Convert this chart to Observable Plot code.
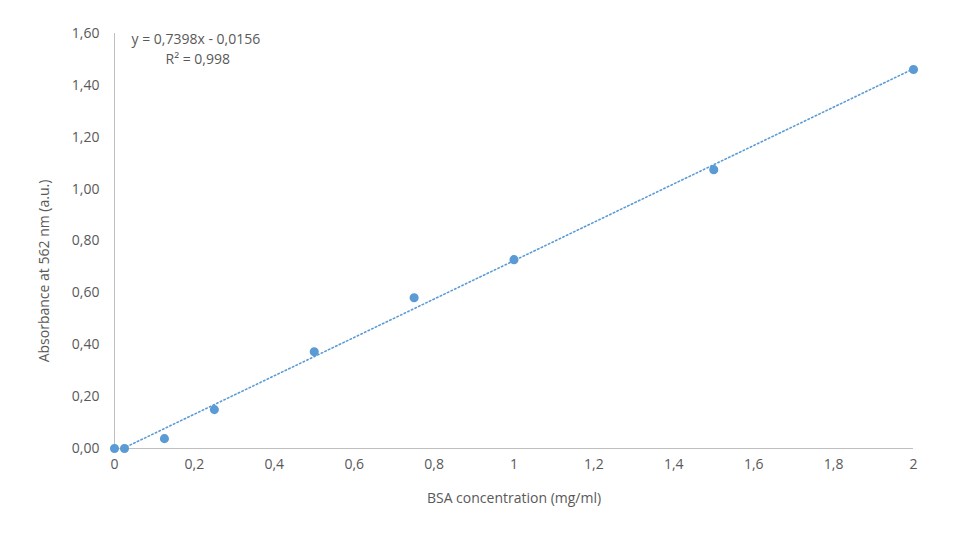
<!DOCTYPE html>
<html>
<head>
<meta charset="utf-8">
<script src="https://cdn.jsdelivr.net/npm/d3@7"></script>
<script src="https://cdn.jsdelivr.net/npm/@observablehq/plot@0.6"></script>
<style>
  html, body { margin: 0; padding: 0; background: #fff; }
  #chart { width: 960px; height: 540px; }
  svg { font-family: "Open Sans", "DejaVu Sans", sans-serif; }
</style>
</head>
<body>
<div id="chart"></div>
<script>
const concentration = [0, 0.025, 0.125, 0.25, 0.5, 0.75, 1, 1.5, 2];
const absorbance = [0, 0, 0.038, 0.15, 0.373, 0.581, 0.728, 1.075, 1.461];
const slope = 0.7398;
const intercept = -0.0156;
const xTicks = [0, 0.2, 0.4, 0.6, 0.8, 1, 1.2, 1.4, 1.6, 1.8, 2];
const yTicks = [0, 0.2, 0.4, 0.6, 0.8, 1.0, 1.2, 1.4, 1.6];
const equationText = "y = 0,7398x - 0,0156";
const r2Text = "R² = 0,998";
const xLabel = "BSA concentration (mg/ml)";
const yLabel = "Absorbance at 562 nm (a.u.)";

const points = concentration.map((c, i) => ({x: c, y: absorbance[i]}));
const xStart = -intercept / slope;
const trend = [xStart, 2].map(x => ({x, y: slope * x + intercept}));

const blue = "#5b9bd5";
const gray = "#595959";
const axisGray = "#bfbfbf";

const fmtX = d => String(+d.toFixed(1)).replace(".", ",");
const fmtY = d => d.toFixed(2).replace(".", ",");

const plot = Plot.plot({
  width: 960,
  height: 540,
  marginLeft: 114,
  marginRight: 47,
  marginTop: 33,
  marginBottom: 92,
  style: {fontFamily: "'Open Sans', sans-serif", fontSize: "14px", color: gray},
  x: {domain: [0, 2], ticks: xTicks, tickFormat: fmtX, tickSize: 0, tickPadding: 12, label: null},
  y: {domain: [0, 1.6], ticks: yTicks, tickFormat: fmtY, tickSize: 0, tickPadding: 14, label: null},
  marks: [
    Plot.ruleX([0], {stroke: axisGray, strokeWidth: 1}),
    Plot.ruleY([0], {stroke: axisGray, strokeWidth: 1}),
    Plot.line(trend, {x: "x", y: "y", stroke: blue, strokeWidth: 1.6, strokeDasharray: "1.5,2.5"}),
    Plot.dot(points, {x: "x", y: "y", r: 3.8, fill: blue, stroke: blue}),
    Plot.axisX({ticks: xTicks, tickFormat: fmtX, tickSize: 0, tickPadding: 11, fontSize: 14, fill: gray, label: null}),
    Plot.axisY({ticks: yTicks, tickFormat: fmtY, tickSize: 0, tickPadding: 15, fontSize: 14, fill: gray, label: null}),
    Plot.text([equationText], {frameAnchor: "top-left", dx: 17, dy: 1, fontSize: 14, fill: gray, textAnchor: "start"}),
    Plot.text([r2Text], {frameAnchor: "top-left", dx: 51, dy: 21, fontSize: 14, fill: gray, textAnchor: "start"}),
    Plot.text([xLabel], {frameAnchor: "bottom", dy: 54, fontSize: 14, fill: gray}),
    Plot.text([yLabel], {frameAnchor: "left", dx: -70, dy: 30, rotate: -90, fontSize: 14, fill: gray, textAnchor: "middle"})
  ]
});
document.getElementById("chart").appendChild(plot);
</script>
</body>
</html>
